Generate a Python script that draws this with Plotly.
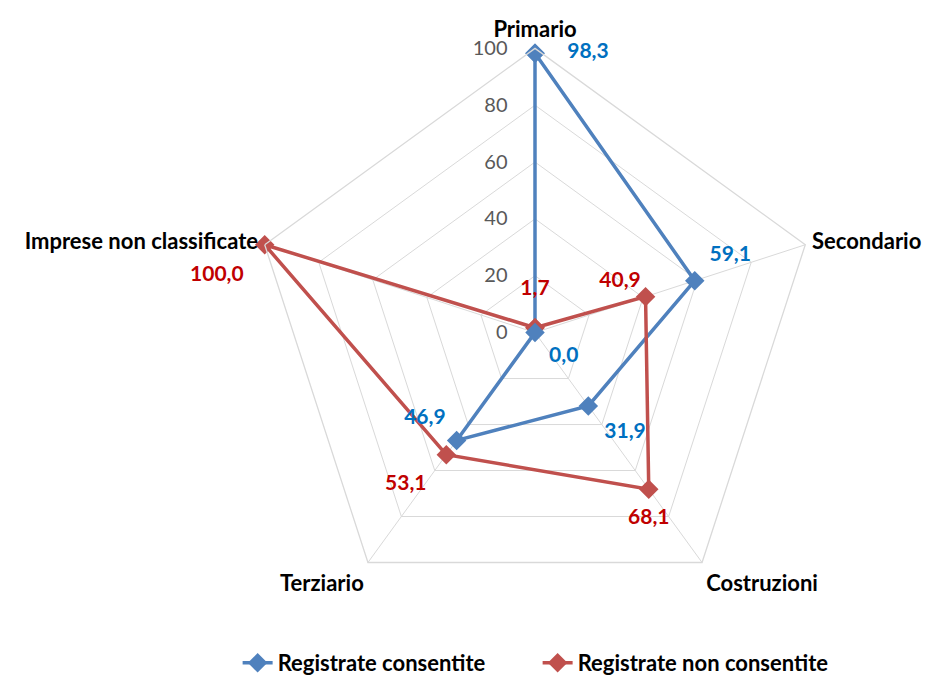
import plotly.graph_objects as go

categories = ["Primario", "Secondario", "Costruzioni", "Terziario", "Imprese non classificate"]
consentite = [98.3, 59.1, 31.9, 46.9, 0.0]
non_consentite = [1.7, 40.9, 68.1, 53.1, 100.0]
radial_ticks = [0, 20, 40, 60, 80, 100]

# where each value label sits around its point, and how far out it is pushed
pos_consentite = ["middle right", "top right", "bottom right", "top left", "bottom right"]
gap_consentite = [50, 22, 24, 16, 21]
pos_non_consentite = ["top center", "top left", "bottom center", "bottom left", "bottom left"]
gap_non_consentite = [43, 6, 29, 30, 32]

BLUE_LINE = "#4f81bd"
BLUE_TEXT = "#0070c0"
RED_LINE = "#c0504d"
RED_TEXT = "#c00000"
GRID = "#d9d9d9"
FONT = "Lato, 'Open Sans', sans-serif"
R_MIN, R_MAX = 0, 100


def fmt(v):
    return f"{v:.1f}".replace(".", ",")


def closed(seq):
    return list(seq) + [seq[0]]


def pick(seq, mask):
    return [s for s, m in zip(seq, mask) if m]


series = [
    ("Registrate consentite", consentite, pos_consentite, gap_consentite, BLUE_LINE, BLUE_TEXT),
    ("Registrate non consentite", non_consentite, pos_non_consentite, gap_non_consentite, RED_LINE, RED_TEXT),
]

fig = go.Figure()
for name, vals, pos, gap, lc, tc in series:
    fig.add_trace(go.Scatterpolar(
        r=closed(vals),
        theta=closed(categories),
        mode="lines+markers",
        name=name,
        line=dict(color=lc, width=3.5),
        marker=dict(symbol="diamond", size=15, color=lc, line=dict(width=0)),
        cliponaxis=False,
    ))

# value labels; the invisible marker sizes set how far each label stands off its point.
# Points on the pole go to an overlaid clipped subplot ("polar2"), where they are not culled.
for name, vals, pos, gap, lc, tc in series:
    on_pole = [v <= R_MIN for v in vals]
    off_pole = [not p for p in on_pole]
    fig.add_trace(go.Scatterpolar(
        r=pick(vals, off_pole),
        theta=pick(categories, off_pole),
        mode="markers+text",
        text=[fmt(v) for v in pick(vals, off_pole)],
        textposition=pick(pos, off_pole),
        textfont=dict(family=FONT, size=21, color=tc, weight="bold"),
        marker=dict(size=pick(gap, off_pole), opacity=0, line=dict(width=0)),
        showlegend=False,
        hoverinfo="skip",
        cliponaxis=False,
    ))
    if any(on_pole):
        fig.add_trace(go.Scatterpolar(
            r=pick(vals, on_pole),
            theta=pick(categories, on_pole),
            subplot="polar2",
            mode="markers",
            marker=dict(symbol="diamond", size=15, color=lc, line=dict(width=0)),
            showlegend=False,
            hoverinfo="skip",
            cliponaxis=True,
        ))
        fig.add_trace(go.Scatterpolar(
            r=pick(vals, on_pole),
            theta=pick(categories, on_pole),
            subplot="polar2",
            mode="markers+text",
            text=[fmt(v) for v in pick(vals, on_pole)],
            textposition=pick(pos, on_pole),
            textfont=dict(family=FONT, size=21, color=tc, weight="bold"),
            marker=dict(size=pick(gap, on_pole), opacity=0, line=dict(width=0)),
            showlegend=False,
            hoverinfo="skip",
            cliponaxis=True,
        ))

cx, cy, half = 535, 337, 288
domain = dict(
    x=[(cx - half) / 935, (cx + half) / 935],
    y=[1 - (cy + half) / 684, 1 - (cy - half) / 684],
)
fig.update_layout(
    width=935,
    height=684,
    margin=dict(l=0, r=0, t=0, b=0),
    paper_bgcolor="white",
    plot_bgcolor="white",
    font=dict(family=FONT),
    polar=dict(
        domain=domain,
        gridshape="linear",
        bgcolor="white",
        angularaxis=dict(
            rotation=90,
            direction="clockwise",
            showline=True,
            linecolor=GRID,
            linewidth=1.3,
            gridcolor=GRID,
            gridwidth=1.3,
            ticks="outside",
            ticklen=2,
            tickcolor="rgba(0,0,0,0)",
            tickfont=dict(family=FONT, size=22, color="black", weight="bold"),
        ),
        radialaxis=dict(
            range=[R_MIN, R_MAX],
            tickvals=radial_ticks,
            angle=90,
            tickangle=90,
            side="counterclockwise",
            showline=False,
            ticks="outside",
            ticklen=20,
            tickcolor="rgba(0,0,0,0)",
            gridcolor=GRID,
            gridwidth=1.3,
            tickfont=dict(family=FONT, size=20, color="#595959"),
        ),
    ),
    polar2=dict(
        domain=domain,
        bgcolor="rgba(0,0,0,0)",
        angularaxis=dict(
            rotation=90,
            direction="clockwise",
            type="category",
            categoryorder="array",
            categoryarray=categories,
            visible=False,
        ),
        radialaxis=dict(range=[R_MIN, R_MAX], visible=False),
    ),
    showlegend=True,
    legend=dict(
        orientation="h",
        x=0.575,
        xanchor="center",
        y=1 - 672 / 684,
        yanchor="middle",
        font=dict(family=FONT, size=22, color="black", weight="bold"),
        entrywidth=255,
        traceorder="normal",
    ),
)

fig.write_html("out.html")
